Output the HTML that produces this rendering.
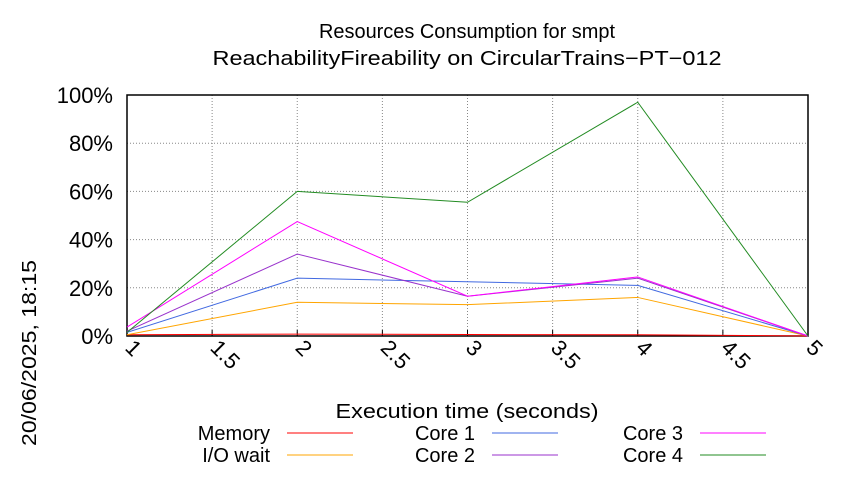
<!DOCTYPE html>
<html><head><meta charset="utf-8"><style>
body{margin:0;background:#fff}
text{font-family:"Liberation Sans",sans-serif;fill:#000}
</style></head><body>
<svg id="chart" width="850" height="475" xmlns="http://www.w3.org/2000/svg">
<rect width="850" height="475" fill="#fff"/>
<text x="467" y="38" font-size="20" text-anchor="middle" textLength="296" lengthAdjust="spacingAndGlyphs">Resources Consumption for smpt</text>
<text x="467" y="65" font-size="20" text-anchor="middle" textLength="509" lengthAdjust="spacingAndGlyphs">ReachabilityFireability on CircularTrains−PT−012</text>
<text transform="translate(36,446) rotate(-90)" font-size="20" textLength="186" lengthAdjust="spacingAndGlyphs">20/06/2025, 18:15</text>
<text x="467" y="418" font-size="20" text-anchor="middle" textLength="263" lengthAdjust="spacingAndGlyphs">Execution time (seconds)</text>
<g id="grid"></g><g id="axes"></g><g id="series"></g><g id="legend"></g>
</svg>
<script>
const xs=[1,2,3,4,5];
const memory=[0.5,0.8,0.6,0.5,0];
const ioWait=[0.5,14,13,16,0];
const core1=[1.5,24,22.5,21,0];
const core2=[2,34,16.5,24,0];
const core3=[3.7,47.5,16.5,24.5,0];
const core4=[1.5,60,55.5,97,0];
const xTicks=[1,1.5,2,2.5,3,3.5,4,4.5,5];
const yTicks=[0,20,40,60,80,100];
const names=["Memory","I/O wait","Core 1","Core 2","Core 3","Core 4"];
const colors=["#ff0000","#ffa500","#4169e1","#9932cc","#ff00ff","#228b22"];
const data=[memory,ioWait,core1,core2,core3,core4];
const L=127,R=808,T=95,B=336;
const X=v=>L+(v-1)/(5-1)*(R-L);
const Y=v=>B-v/100*(B-T);
const NS="http://www.w3.org/2000/svg";
function mk(tag,attrs,parent){const e=document.createElementNS(NS,tag);for(const k in attrs)e.setAttribute(k,attrs[k]);document.getElementById(parent).appendChild(e);return e;}
xTicks.forEach(t=>{
 const g=mk('line',{x1:X(t),x2:X(t),y1:T,y2:B,stroke:'#888','stroke-dasharray':'1,2','stroke-width':1},'grid');
 
 
 const tk=mk('line',{x1:X(t),x2:X(t),y1:B,y2:B-6,stroke:'#000'},'axes');
 
 
 const tx=mk('text',{transform:`translate(${X(t)-3},${B+13}) rotate(45)`,'font-size':22},'axes');
 tx.textContent=t;
 
 
});
yTicks.forEach(t=>{
 const g=mk('line',{x1:L,x2:R,y1:Y(t),y2:Y(t),stroke:'#888','stroke-dasharray':'1,2','stroke-width':1},'grid');
 
 
 const tx=mk('text',{x:L-14,y:Y(t)+8,'font-size':22,'text-anchor':'end'},'axes');
 tx.textContent=t+'%';
 
 
});
const fr=mk('rect',{x:L,y:T,width:R-L,height:B-T,fill:'none',stroke:'#000','stroke-width':1.5},'axes');


data.forEach((s,i)=>{
 const p=mk('polyline',{points:s.map((v,j)=>X(xs[j])+','+Y(v)).join(' '),fill:'none',stroke:colors[i],'stroke-width':1},'series');
 
 
});
const lx=[270,270,475,475,683,683],ly=[433,455,433,455,433,455];
names.forEach((n,i)=>{
 const t=mk('text',{x:lx[i],y:ly[i]+7,'font-size':20,'text-anchor':'end'},'legend');
 t.textContent=n;
 
 
 const l=mk('line',{x1:lx[i]+17,x2:lx[i]+83,y1:ly[i],y2:ly[i],stroke:colors[i],'stroke-width':1},'legend');
 
 
});
</script>
</body></html>
